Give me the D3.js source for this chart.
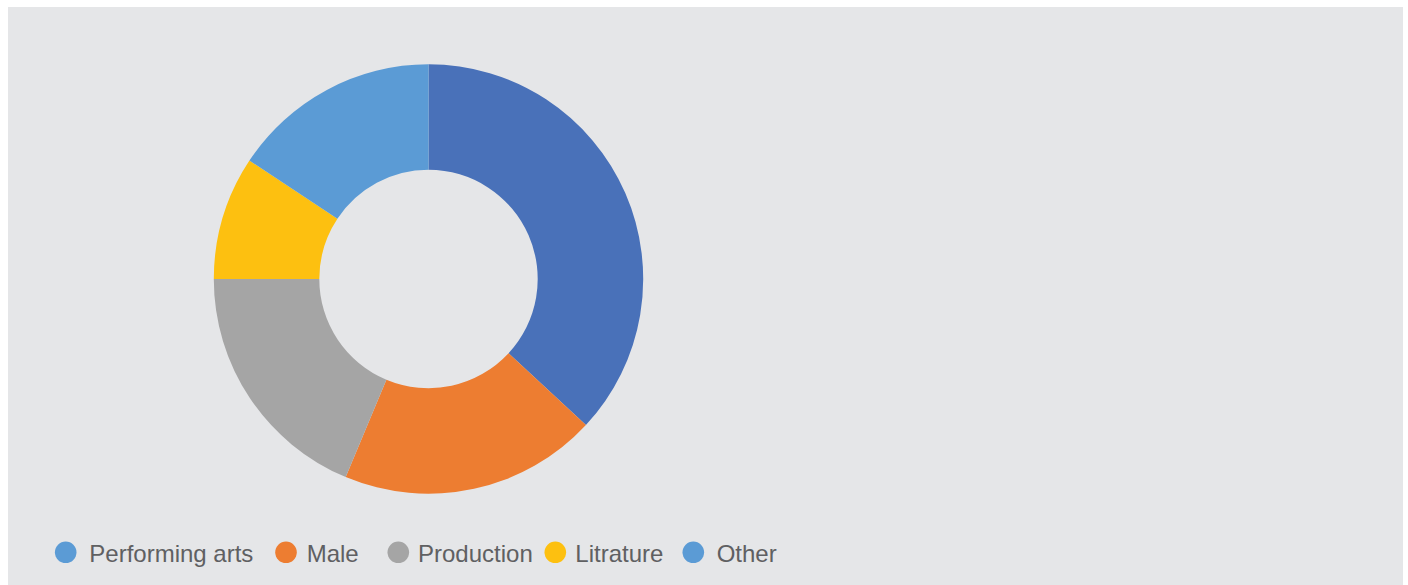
<!DOCTYPE html>
<html>
<head>
<meta charset="utf-8">
<script src="https://cdn.jsdelivr.net/npm/d3@7"></script>
<style>
  html, body { margin: 0; padding: 0; background: #ffffff; }
  svg { display: block; }
</style>
</head>
<body>
<svg id="chart" width="1408" height="585"></svg>
<script>
// Share of entries per category
const categories = ["Performing arts", "Male", "Production", "Litrature", "Other"];
const values = [36.9, 19.4, 18.7, 9.3, 15.7];
const sliceColors = ["#4971b9", "#ed7d31", "#a5a5a5", "#fdc010", "#5b9bd5"];
const legendColors = ["#5b9bd5", "#ed7d31", "#a5a5a5", "#fdc010", "#5b9bd5"];
// Horizontal placement of each legend marker
const legendX = [65.7, 286, 398.3, 555.3, 693.3];
const legendTextGap = [23.6, 20.7, 19.7, 20, 23.4];

const svg = d3.select("#chart");

// Panel background
svg.append("rect")
  .attr("x", 8).attr("y", 7)
  .attr("width", 1395).attr("height", 578)
  .attr("fill", "#e5e6e8");

const cx = 428.5, cy = 279, rOuter = 214.7, rInner = 109.2;

const pie = d3.pie().sort(null).value(d => d.value);
const arc = d3.arc().innerRadius(rInner).outerRadius(rOuter);

const data = categories.map((c, i) => ({ name: c, value: values[i], color: sliceColors[i] }));

svg.append("g")
  .attr("transform", `translate(${cx},${cy})`)
  .selectAll("path")
  .data(pie(data))
  .join("path")
  .attr("d", arc)
  .attr("fill", d => d.data.color);

// Legend
const legend = svg.append("g").attr("class", "legend");
const items = legend.selectAll("g")
  .data(categories)
  .join("g")
  .attr("transform", (d, i) => `translate(${legendX[i]},552.3)`);

items.append("circle")
  .attr("r", 10.8)
  .attr("fill", (d, i) => legendColors[i]);

items.append("text")
  .attr("x", (d, i) => legendTextGap[i])
  .attr("y", 9.2)
  .attr("font-family", "'Liberation Sans', Arial, Helvetica, sans-serif")
  .attr("font-size", 24)
  .attr("fill", "#5f6062")
  .text(d => d);
</script>
</body>
</html>
